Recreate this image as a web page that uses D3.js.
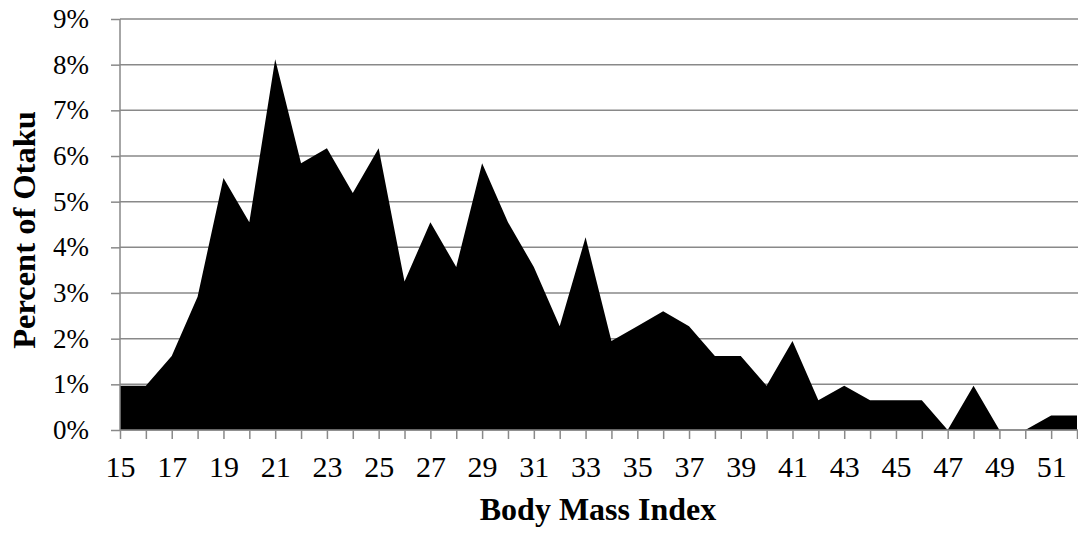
<!DOCTYPE html>
<html>
<head>
<meta charset="utf-8">
<script src="https://cdn.jsdelivr.net/npm/d3@7"></script>
<style>
  body { margin: 0; background: #fff; }
  svg { display: block; }
</style>
</head>
<body>
<svg id="chart" width="1078" height="533"></svg>
<script>
// BMI categories and share of respondents (%)
const bmi = [15, 16, 17, 18, 19, 20, 21, 22, 23, 24, 25, 26, 27, 28, 29, 30, 31, 32, 33,
             34, 35, 36, 37, 38, 39, 40, 41, 42, 43, 44, 45, 46, 47, 48, 49, 50, 51, 52];
const percent = [0.97, 0.97, 1.62, 2.92, 5.52, 4.55, 8.12, 5.84, 6.17, 5.19, 6.17, 3.25, 4.55,
                 3.57, 5.84, 4.55, 3.57, 2.27, 4.22, 1.95, 2.27, 2.60, 2.27, 1.62, 1.62, 0.97,
                 1.95, 0.65, 0.97, 0.65, 0.65, 0.65, 0, 0.97, 0, 0, 0.32, 0.32];
const yTicks = [0, 1, 2, 3, 4, 5, 6, 7, 8, 9];

const svg = d3.select('#chart');
const plotLeft = 120, plotRight = 1077, plotTop = 19, plotBottom = 430;
const gray = '#898989';
const serif = "'Liberation Serif', 'DejaVu Serif', serif";

let x = d3.scaleLinear().domain([d3.min(bmi), d3.max(bmi)]).range([plotLeft, plotRight]);
let y = d3.scaleLinear().domain([0, 9]).range([plotBottom, plotTop]);

// horizontal gridlines
svg.append('g')
    .selectAll('line')
    .data(yTicks)
    .join('line')
    .attr('x1', plotLeft)
    .attr('x2', 1078)
    .attr('y1', (d) => y(d))
    .attr('y2', (d) => y(d))
    .attr('stroke', gray)
    .attr('stroke-width', 1.5);

let data = bmi.map((b, i) => ({ bmi: b, value: percent[i] }));

let area = d3.area()
    .x((d) => x(d.bmi))
    .y0(y(0))
    .y1((d) => y(d.value));

svg.append('path')
    .datum(data)
    .attr('d', area)
    .attr('fill', '#000');

// y axis
let yAxis = svg.append('g')
    .attr('transform', `translate(${plotLeft},0)`)
    .call(d3.axisLeft(y).tickValues(yTicks).tickSize(9).tickPadding(22).tickFormat((d) => d + '%'));
yAxis.attr('font-family', null);
yAxis.selectAll('text')
    .style('font-family', serif)
    .style('font-size', '27px')
    .attr('fill', '#000');

// x axis, a label on every other tick
let xAxis = svg.append('g')
    .attr('transform', `translate(0,${plotBottom})`)
    .call(d3.axisBottom(x).tickValues(bmi).tickSize(9).tickPadding(17)
        .tickFormat((d) => (d % 2 === 1 ? d : '')));
xAxis.attr('font-family', null);
xAxis.selectAll('text')
    .style('font-family', serif)
    .style('font-size', '30px')
    .attr('fill', '#000');

svg.selectAll('.domain, .tick line')
    .attr('stroke', gray)
    .attr('stroke-width', 1.5);
// drop the outer tick stubs from the axis paths
yAxis.select('.domain').attr('d', `M0,${plotBottom}V${plotTop}`);
xAxis.select('.domain').attr('d', `M${plotLeft},0H${plotRight}`);

svg.append('text')
    .attr('x', 598)
    .attr('y', 520)
    .attr('text-anchor', 'middle')
    .style('font-family', serif)
    .style('font-weight', 'bold')
    .style('font-size', '32px')
    .text('Body Mass Index');

svg.append('text')
    .attr('transform', 'translate(35,230) rotate(-90)')
    .attr('text-anchor', 'middle')
    .style('font-family', serif)
    .style('font-weight', 'bold')
    .style('font-size', '32.5px')
    .text('Percent of Otaku');
</script>
</body>
</html>
